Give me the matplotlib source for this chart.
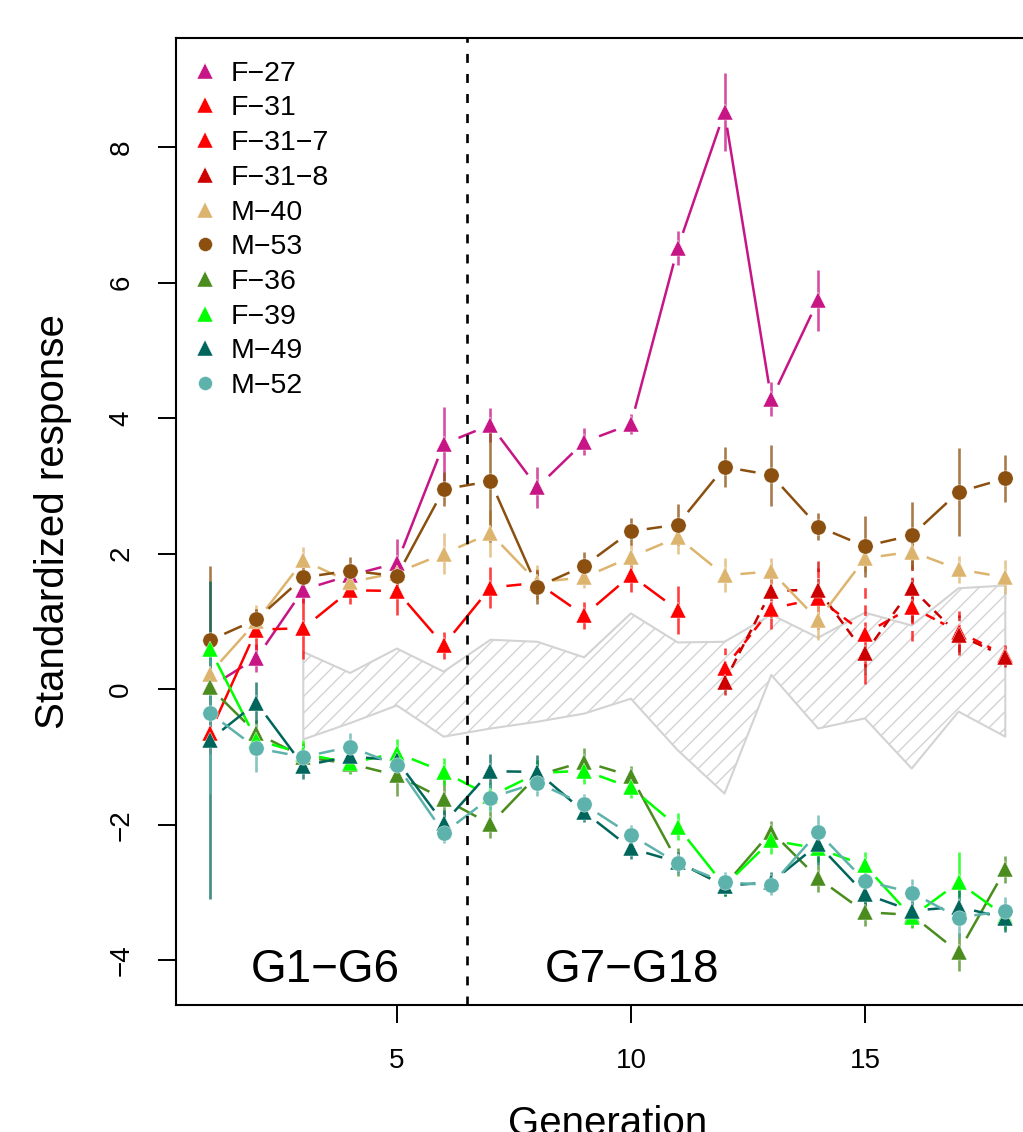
import numpy as np
import matplotlib
matplotlib.use('Agg')
import matplotlib.pyplot as plt
from matplotlib.lines import Line2D

plt.rcParams['font.family'] = ['Liberation Sans', 'DejaVu Sans']
plt.rcParams['hatch.linewidth'] = 1.0

gen = np.arange(1, 19)

# each line: values, errors, colour, marker, dashed?
f27 = [0.03, 0.46, 1.47, 1.68, 1.86, 3.62, 3.90, 2.98, 3.65, 3.91, 6.51, 8.52, 4.28, 5.74]
f27_err = [0.1, 0.2, 0.2, 0.15, 0.35, 0.55, 0.25, 0.3, 0.2, 0.15, 0.25, 0.58, 0.25, 0.45]
f31 = [-0.65, 0.88, 0.90, 1.46, 1.45, 0.65, 1.50, 1.57, 1.09, 1.68, 1.17]
f31_err = [0.3, 0.3, 0.45, 0.2, 0.35, 0.2, 0.3, 0.2, 0.2, 0.25, 0.35]
f31_7 = [0.31, 1.19, 1.34, 0.82, 1.21, 0.85, 0.50]
f31_7_err = [0.3, 0.3, 0.45, 0.75, 0.5, 0.3, 0.15]
f31_8 = [0.11, 1.45, 1.47, 0.53, 1.49, 0.80, 0.48]
f31_8_err = [0.2, 0.4, 0.5, 0.3, 0.5, 0.3, 0.15]
m40 = [0.23, 1.00, 1.90, 1.58, 1.72, 2.00, 2.30, 1.58, 1.65, 1.95, 2.24, 1.68, 1.74, 1.02, 1.93, 2.03, 1.77, 1.65]
m40_err = [0.3, 0.25, 0.2, 0.2, 0.2, 0.3, 0.35, 0.25, 0.15, 0.2, 0.25, 0.25, 0.2, 0.3, 0.2, 0.2, 0.2, 0.25]
m53 = [0.72, 1.03, 1.65, 1.75, 1.67, 2.95, 3.07, 1.51, 1.82, 2.33, 2.43, 3.28, 3.16, 2.40, 2.11, 2.27, 2.91, 3.11]
m53_err = [1.1, 0.15, 0.2, 0.2, 0.15, 0.25, 0.9, 0.25, 0.2, 0.2, 0.3, 0.3, 0.45, 0.2, 0.45, 0.5, 0.65, 0.35]
f36 = [0.03, -0.65, -1.00, -1.10, -1.27, -1.62, -1.99, -1.27, -1.07, -1.28, -2.55, -2.90, -2.10, -2.79, -3.29, -3.33, -3.88, -2.66]
f36_err = [0.2, 0.2, 0.2, 0.15, 0.3, 0.3, 0.2, 0.2, 0.2, 0.15, 0.2, 0.15, 0.15, 0.2, 0.2, 0.2, 0.28, 0.2]
f39 = [0.60, -0.75, -0.95, -1.09, -0.94, -1.22, -1.58, -1.24, -1.20, -1.45, -2.03, -2.90, -2.23, -2.35, -2.60, -3.36, -2.85, -3.35]
f39_err = [0.2, 0.2, 0.2, 0.15, 0.2, 0.2, 0.2, 0.2, 0.2, 0.15, 0.2, 0.15, 0.2, 0.2, 0.2, 0.15, 0.45, 0.2]
m49 = [-0.75, -0.20, -1.13, -0.99, -1.05, -1.98, -1.21, -1.22, -1.81, -2.35, -2.55, -2.90, -2.85, -2.29, -3.02, -3.27, -3.21, -3.38]
m49_err = [2.35, 0.3, 0.2, 0.2, 0.2, 0.2, 0.25, 0.25, 0.15, 0.15, 0.15, 0.15, 0.15, 0.3, 0.2, 0.2, 0.25, 0.2]
m52 = [-0.35, -0.87, -1.00, -0.85, -1.12, -2.12, -1.60, -1.38, -1.70, -2.15, -2.57, -2.85, -2.89, -2.11, -2.83, -3.00, -3.37, -3.27]
m52_err = [1.2, 0.35, 0.15, 0.2, 0.15, 0.15, 0.2, 0.2, 0.15, 0.15, 0.15, 0.15, 0.15, 0.25, 0.2, 0.2, 0.3, 0.2]

band_x = np.arange(3, 19)
band_hi = [0.55, 0.24, 0.60, 0.26, 0.73, 0.70, 0.47, 1.12, 0.69, 0.70, 1.10, 0.76, 1.13, 0.94, 1.49, 1.53]
band_lo = [-0.74, -0.50, -0.24, -0.70, -0.58, -0.48, -0.36, -0.14, -0.90, -1.54, 0.21, -0.58, -0.43, -1.17, -0.33, -0.70]

series = [
    ('F\u221227', gen[:14], f27, f27_err, '#C71585', '^', False),
    ('F\u221231', gen[:11], f31, f31_err, '#FF0000', '^', False),
    ('F\u221231\u22127', gen[11:], f31_7, f31_7_err, '#FF0000', '^', True),
    ('F\u221231\u22128', gen[11:], f31_8, f31_8_err, '#CC0000', '^', True),
    ('M\u221240', gen, m40, m40_err, '#DDB46E', '^', False),
    ('M\u221253', gen, m53, m53_err, '#8B4F0F', 'o', False),
    ('F\u221236', gen, f36, f36_err, '#4A8C1E', '^', False),
    ('F\u221239', gen, f39, f39_err, '#00FF00', '^', False),
    ('M\u221249', gen, m49, m49_err, '#00665C', '^', False),
    ('M\u221252', gen, m52, m52_err, '#5DB3AC', 'o', False),
]


def gapLine(ax, xs, ys, color, dashed, gap=16):
    # R type="b": segments stop short of the points
    pts = ax.transData.transform(np.column_stack([xs, ys]))
    inv = ax.transData.inverted()
    for p, q in zip(pts[:-1], pts[1:]):
        d = q - p
        L = np.hypot(d[0], d[1])
        if L <= 2 * gap:
            continue
        u = d / L
        a, b = inv.transform(np.array([p + u * gap, q - u * gap]))
        ax.plot([a[0], b[0]], [a[1], b[1]], color=color, lw=1.8,
                ls=(0, (4, 2.5)) if dashed else '-', solid_capstyle='butt', zorder=3)


fig = plt.figure(figsize=(10.23, 11.32), dpi=100)
ax = fig.add_axes([176 / 1023, 127 / 1132, 863 / 1023, 967 / 1132])
ax.set_xlim(0.28, 18.72)
ax.set_ylim(-4.66, 9.61)

ax.fill_between(band_x, band_lo, band_hi, facecolor='none', edgecolor='#D3D3D3',
                hatch='//', lw=1.5, zorder=1)

handles = []
for name, xs, ys, err, col, mk, dashed in series:
    ys = np.array(ys)
    err = np.array(err)
    ax.vlines(xs, ys - err, ys + err, color=col, lw=1.9, alpha=0.75,
              linestyles=(0, (4, 2.5)) if dashed else 'solid', zorder=2)
    gapLine(ax, xs, ys, col, dashed)
    ms = 12 if mk == '^' else 11
    ax.plot(xs, ys, ls='none', marker=mk, ms=ms, color=col, mec='white', mew=0.3, zorder=4)
    handles.append(Line2D([], [], ls='none', marker=mk, ms=ms - 1, color=col, mec='white', mew=0.3))

ax.axvline(6.5, color='black', ls=(0, (3.4, 4.2)), lw=1.9, zorder=5)

ax.text(3.46, -4.15, 'G1\u2212G6', fontsize=33, ha='center', va='center')
ax.text(10.02, -4.15, 'G7\u2212G18', fontsize=33, ha='center', va='center')

leg = ax.legend(handles, [s[0] for s in series], loc='upper left', frameon=False,
                fontsize=20.5, handlelength=0.8, handletextpad=0.5, labelspacing=0.305,
                borderaxespad=0.4, bbox_to_anchor=(-0.006, 1.0))

ax.set_xticks([5, 10, 15])
ax.set_yticks([-4, -2, 0, 2, 4, 6, 8])
ax.tick_params(axis='both', labelsize=20, length=13, width=1.4)
ax.tick_params(axis='x', pad=18)
ax.tick_params(axis='y', pad=17)
for lab in ax.get_yticklabels():
    lab.set_rotation(90)
    lab.set_va('center')
for sp in ax.spines.values():
    sp.set_linewidth(1.5)

ax.set_xlabel('Generation', fontsize=29, labelpad=22)
ax.set_ylabel('Standardized response', fontsize=29, labelpad=26)

fig.savefig('out.png', dpi=100)
